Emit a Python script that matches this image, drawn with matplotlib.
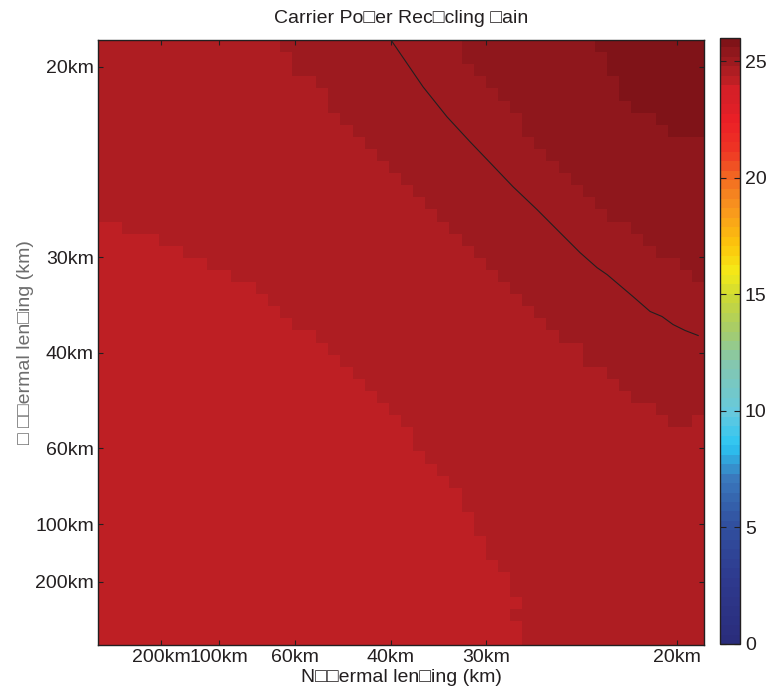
import numpy as np
import matplotlib
matplotlib.use("Agg")
import matplotlib.pyplot as plt
from matplotlib.colors import ListedColormap, LinearSegmentedColormap

plt.rcParams["font.family"] = ["Liberation Sans", "DejaVu Sans"]

# ---------------------------------------------------
# Data (1/f grid in 1/km)
# ---------------------------------------------------
inv_f = np.linspace(0.0, 0.0518, 50)

# gain value of each colour band (lightest -> darkest)
level_values = [24.2, 24.6, 25.0, 25.4, 25.8]

# for every column (left -> right): number of rows counted from the top
# that belong to band >= 2, >= 3, >= 4, >= 5
rows_ge2 = [15, 15, 16, 16, 16, 17, 17, 18, 18, 19, 19, 20, 20, 21, 22, 23, 24, 24, 25, 26,
            27, 28, 29, 30, 31, 32, 34, 35, 36, 37, 39, 41, 43, 44, 46, 50, 50, 50, 50, 50,
            50, 50, 50, 50, 50, 50, 50, 50, 50, 50]
rows_ge3 = [0, 0, 0, 0, 0, 0, 0, 0, 0, 0, 0, 0, 0, 0, 0, 1, 3, 3, 4, 6,
            7, 8, 9, 10, 11, 12, 13, 14, 15, 16, 17, 18, 19, 20, 21, 22, 23, 24, 25, 25,
            27, 27, 28, 29, 30, 30, 31, 32, 32, 31]
rows_ge4 = [0, 0, 0, 0, 0, 0, 0, 0, 0, 0, 0, 0, 0, 0, 0, 0, 0, 0, 0, 0,
            0, 0, 0, 0, 0, 0, 0, 0, 0, 0, 2, 3, 4, 5, 6, 8, 9, 10, 11, 12,
            13, 14, 15, 15, 16, 17, 18, 18, 19, 20]
rows_ge5 = [0, 0, 0, 0, 0, 0, 0, 0, 0, 0, 0, 0, 0, 0, 0, 0, 0, 0, 0, 0,
            0, 0, 0, 0, 0, 0, 0, 0, 0, 0, 0, 0, 0, 0, 0, 0, 0, 0, 0, 0,
            0, 1, 3, 5, 6, 6, 7, 8, 8, 8]
# odd single cells: (row from top, column, band)
odd_cells = [(47, 34, 2)]

# contour line (x = 1/f_N, y = 1/f_W, in 1/km)
contour_x = [0.02503, 0.0252, 0.02782, 0.02991, 0.03192, 0.03367, 0.03567, 0.03777, 0.03977,
             0.04152, 0.043, 0.04388, 0.04614, 0.04763, 0.04867, 0.04963, 0.05068, 0.05182]
contour_y = [0.05234, 0.05208, 0.04824, 0.04562, 0.04344, 0.04161, 0.03951, 0.03751, 0.0355,
             0.03375, 0.03244, 0.03183, 0.02991, 0.02861, 0.02817, 0.02747, 0.02695, 0.02651]

tick_km = [200, 100, 60, 40, 30, 20]
y_tick_km = [20, 30, 40, 60, 100, 200]
cbar_ticks = [0, 5, 10, 15, 20, 25]
cmax = 26.0

# ---------------------------------------------------
# Build the gain grid from the band boundaries
# ---------------------------------------------------
n = len(inv_f)
Z = np.zeros((n, n))
for c in range(n):
    for r in range(n):
        band = 1 + (r < rows_ge2[c]) + (r < rows_ge3[c]) + (r < rows_ge4[c]) + (r < rows_ge5[c])
        Z[n - 1 - r, c] = level_values[band - 1]
for r, c, band in odd_cells:
    Z[n - 1 - r, c] = level_values[band - 1]

# ---------------------------------------------------
# Colormap: washed jet, 64 steps like the reference
# ---------------------------------------------------
anchors = [
    (0.00, "#2a2d7c"), (0.10, "#2e3a8e"), (0.19, "#31509f"), (0.27, "#3a78bc"),
    (0.325, "#2bc5f3"), (0.38, "#66c9de"), (0.46, "#84c7ae"), (0.52, "#a6cc6a"),
    (0.57, "#c8d73a"), (0.615, "#f4eb18"), (0.66, "#fdc60b"), (0.72, "#f8961e"),
    (0.77, "#f37021"), (0.82, "#ee3524"), (0.87, "#ec1f26"), (0.90, "#d81f27"),
    (1.00, "#d01f26"),
]
base = LinearSegmentedColormap.from_list("washedjet", anchors)
colors = [base(i / 63) for i in range(59)]
colors += ["#be1f24", "#ae1d22", "#9d1a1f", "#8f171c", "#801318"]
cmap = ListedColormap(colors)

# ---------------------------------------------------
# Plot
# ---------------------------------------------------
fig = plt.figure(figsize=(7.67, 6.91), dpi=100)
ax = fig.add_axes([98 / 767, 46 / 691, 606 / 767, 605 / 691])
cax = fig.add_axes([720 / 767, 47 / 691, 20 / 767, 606 / 691])

mesh = ax.pcolormesh(inv_f, inv_f, Z, shading="nearest", cmap=cmap, vmin=0, vmax=cmax)
ax.plot(contour_x, contour_y, color="#231f20", linewidth=0.8)

half = (inv_f[1] - inv_f[0]) / 2
ax.set_xlim(inv_f[0] - half, inv_f[-1] + half)
ax.set_ylim(inv_f[0] - half, inv_f[-1] + half)

ax.set_xticks([1 / k for k in tick_km])
ax.set_xticklabels([f"{k}km" for k in tick_km])
ax.set_yticks([1 / k for k in y_tick_km])
ax.set_yticklabels([f"{k}km" for k in y_tick_km])
ax.tick_params(direction="in", length=3.6, width=0.8, top=True, right=True,
               labelsize=14, colors="#231f20", pad=3)
for s in ax.spines.values():
    s.set_color("#231f20")
    s.set_linewidth(1.0)

ax.set_title("Carrier Po\u25a1er Rec\u25a1cling \u25a1ain", fontsize=14, color="#231f20", pad=12)
ax.set_xlabel("N\u25a1\u25a1ermal len\u25a1ing (km)", fontsize=14, color="#231f20", labelpad=2)
ax.set_ylabel("\u25a1 \u25a1\u25a1ermal len\u25a1ing (km)", fontsize=14, color="#6d6d6d", labelpad=1)

cb = fig.colorbar(mesh, cax=cax, ticks=cbar_ticks)
cb.ax.tick_params(direction="in", length=4, width=0.8, left=True, right=True,
                  labelsize=14, colors="#231f20")
cb.outline.set_edgecolor("#231f20")
cb.outline.set_linewidth(1.0)

fig.savefig("out.png", dpi=100)
